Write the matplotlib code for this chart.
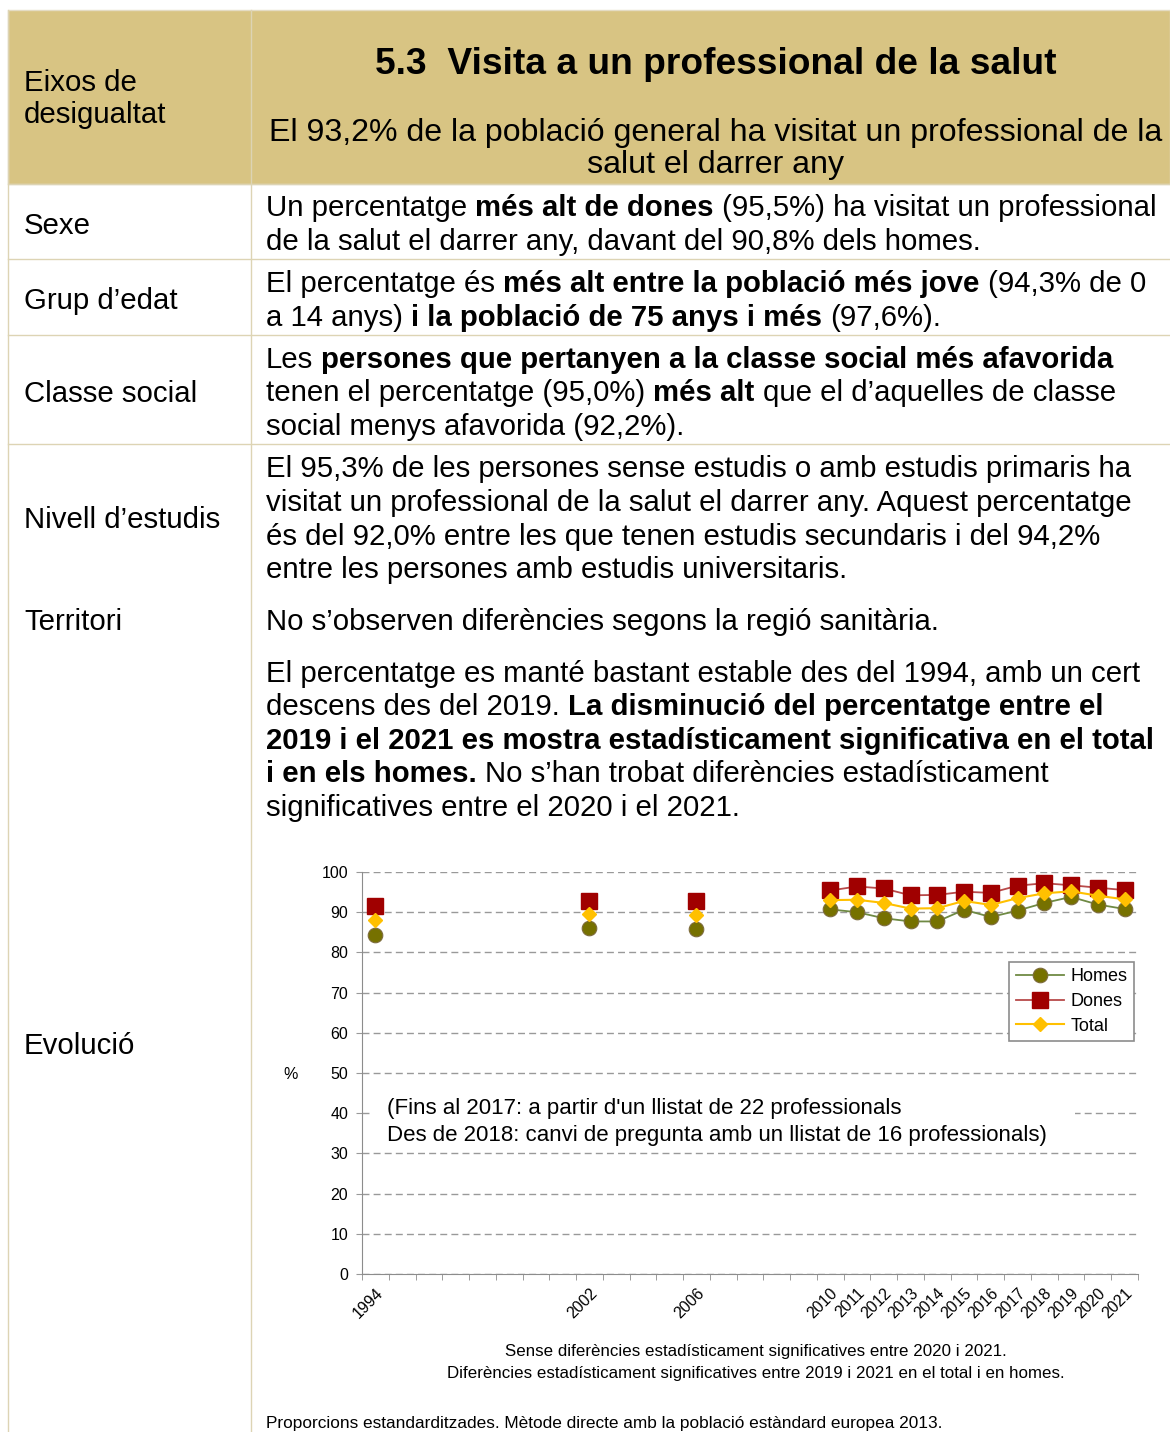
import matplotlib
matplotlib.use('Agg')
import matplotlib.pyplot as plt
from matplotlib.patches import Rectangle
from matplotlib.lines import Line2D
from matplotlib.font_manager import FontProperties
import numpy as np

FONT = 'Liberation Sans'
plt.rcParams['font.family'] = [FONT, 'DejaVu Sans']

# category axis of the chart (blank = year without survey)
categories = ['1994', '', '', '', '', '', '', '',
              '2002', '', '', '',
              '2006', '', '', '', '',
              '2010', '2011', '2012', '2013', '2014', '2015', '2016',
              '2017', '2018', '2019', '2020', '2021']
years = ['1994', '2002', '2006', '2010', '2011', '2012', '2013', '2014',
         '2015', '2016', '2017', '2018', '2019', '2020', '2021']
homes = [84.4, 86.1, 85.9, 90.7, 90.0, 88.5, 87.7, 87.7, 90.6, 88.8, 90.4, 92.3, 93.8, 91.9, 90.8]
dones = [91.6, 92.8, 92.7, 95.4, 96.4, 95.9, 94.2, 94.3, 95.1, 94.8, 96.6, 97.2, 96.7, 96.1, 95.5]
total = [88.1, 89.5, 89.2, 93.0, 93.1, 92.3, 90.9, 91.0, 92.8, 91.8, 93.5, 94.7, 95.2, 94.1, 93.2]

W, H = 1170, 1432
BODY = 21.2
fig = plt.figure(figsize=(W / 100, H / 100), dpi=100)
renderer = fig.canvas.get_renderer()


def fx(x):
    return x / W


def fy(y):
    return 1 - y / H


def seg_width(s, prop):
    w2 = renderer.get_text_width_height_descent('|' + s + '|', prop, ismath=False)[0]
    w0 = renderer.get_text_width_height_descent('||', prop, ismath=False)[0]
    return w2 - w0


def rich_line(x, y, parts, size=BODY):
    for s, bold in parts:
        prop = FontProperties(family=FONT, size=size, weight='bold' if bold else 'normal')
        lead = len(s) - len(s.lstrip(' '))
        xs = x + (seg_width(' ' * lead, prop) if lead else 0)
        fig.text(fx(xs), fy(y), s.strip(' '), fontproperties=prop, va='center_baseline')
        x += seg_width(s, prop)


# table frame
line_col = '#ddd4b4'
fig.patches.append(Rectangle((fx(8), fy(184)), (W - 8) / W, 174 / H, transform=fig.transFigure,
                             facecolor='#d8c483', edgecolor='#e4dcc4', lw=1, zorder=0))
for y in [184, 259, 335, 444]:
    fig.lines.append(Line2D([fx(8), 1], [fy(y), fy(y)], transform=fig.transFigure, color=line_col, lw=1))
for x in [8, 251]:
    fig.lines.append(Line2D([fx(x), fx(x)], [fy(10), 0], transform=fig.transFigure, color=line_col, lw=1))

# header
fig.text(fx(24), fy(80), 'Eixos de', fontsize=BODY, va='center_baseline')
fig.text(fx(24), fy(112), 'desigualtat', fontsize=BODY, va='center_baseline')
fig.text(fx(716), fy(60), '5.3  Visita a un professional de la salut', fontsize=26.7,
         fontweight='bold', ha='center', va='center_baseline')
fig.text(fx(716), fy(129), 'El 93,2% de la població general ha visitat un professional de la',
         fontsize=23.1, ha='center', va='center_baseline')
fig.text(fx(716), fy(162), 'salut el darrer any', fontsize=23.1, ha='center', va='center_baseline')

# row labels
for lab, y in [('Sexe', 223), ('Grup d’edat', 298), ('Classe social', 391),
               ('Nivell d’estudis', 517), ('Territori', 619), ('Evolució', 1043)]:
    fig.text(fx(24), fy(y), lab, fontsize=BODY, va='center_baseline')

# row texts
rows = [
    (205, [('Un percentatge ', 0), ('més alt de dones', 1), (' (95,5%) ha visitat un professional', 0)]),
    (239, [('de la salut el darrer any, davant del 90,8% dels homes.', 0)]),
    (281, [('El percentatge és ', 0), ('més alt entre la població més jove', 1), (' (94,3% de 0', 0)]),
    (315, [('a 14 anys) ', 0), ('i la població de 75 anys i més', 1), (' (97,6%).', 0)]),
    (357, [('Les ', 0), ('persones que pertanyen a la classe social més afavorida', 1)]),
    (390, [('tenen el percentatge (95,0%) ', 0), ('més alt', 1), (' que el d’aquelles de classe', 0)]),
    (424, [('social menys afavorida (92,2%).', 0)]),
    (466, [('El 95,3% de les persones sense estudis o amb estudis primaris ha', 0)]),
    (500, [('visitat un professional de la salut el darrer any. Aquest percentatge', 0)]),
    (534, [('és del 92,0% entre les que tenen estudis secundaris i del 94,2%', 0)]),
    (567, [('entre les persones amb estudis universitaris.', 0)]),
    (619, [('No s’observen diferències segons la regió sanitària.', 0)]),
    (671, [('El percentatge es manté bastant estable des del 1994, amb un cert', 0)]),
    (704, [('descens des del 2019. ', 0), ('La disminució del percentatge entre el', 1)]),
    (738, [('2019 i el 2021 es mostra estadísticament significativa en el total', 1)]),
    (771, [('i en els homes.', 1), (' No s’han trobat diferències estadísticament', 0)]),
    (805, [('significatives entre el 2020 i el 2021.', 0)]),
]
for y, parts in rows:
    rich_line(266, y, parts)

# chart
ax = fig.add_axes([fx(362), fy(1274), 776 / W, 402 / H])
x = np.arange(len(categories))
pos = [categories.index(y) for y in years]


def full(vals):
    arr = np.full(len(categories), np.nan)
    arr[pos] = vals
    return arr


ax.plot(x, full(homes), color='#6f8a44', lw=1.3, marker='o', ms=10.5,
        mfc='#767100', mec='#7d6b3c', mew=0.8, label='Homes', zorder=3)
ax.plot(x, full(dones), color='#b84a4a', lw=1.3, marker='s', ms=11,
        mfc='#a00000', mec='#a00000', label='Dones', zorder=4)
ax.plot(x, full(total), color='#ffc000', lw=1.5, marker='D', ms=7.5,
        mfc='#ffc000', mec='#ffc000', label='Total', zorder=5)

ax.set_xlim(-0.5, len(categories) - 0.5)
ax.set_ylim(0, 100)
ax.set_yticks(range(0, 101, 10))
ax.yaxis.grid(True, color='#999999', ls=(0, (5, 3)), lw=1)
ax.set_axisbelow(True)
major = [i for i, c in enumerate(categories) if c]
ax.set_xticks(major)
ax.set_xticklabels([categories[i] for i in major], rotation=45, ha='right',
                   rotation_mode='anchor', fontsize=11.5)
ax.set_xticks(np.arange(len(categories) + 1) - 0.5, minor=True)
ax.tick_params(axis='x', which='major', length=0, pad=8)
ax.tick_params(axis='x', which='minor', length=4, color='#8c8c8c', direction='out')
ax.tick_params(axis='y', length=4, color='#999999', labelsize=11.5, pad=6)
for s in ['top', 'right']:
    ax.spines[s].set_visible(False)
for s in ['left', 'bottom']:
    ax.spines[s].set_color('#8c8c8c')
leg = ax.legend(loc='upper right', bbox_to_anchor=(0.995, 0.776), fancybox=False,
                edgecolor='#8c8c8c', fontsize=13, handlelength=2.7, borderaxespad=0,
                labelspacing=0.42, handletextpad=0.35, borderpad=0.35, framealpha=1)
leg.get_frame().set_linewidth(1.2)

fig.text(fx(291), fy(1073), '%', fontsize=11.5, ha='center', va='center_baseline')

# note inside the chart
n1 = fig.text(fx(387), fy(1106), "(Fins al 2017: a partir d'un llistat de 22 professionals",
              fontsize=16, va='center_baseline', zorder=4)
n2 = fig.text(fx(387), fy(1133), "Des de 2018: canvi de pregunta amb un llistat de 16 professionals)",
              fontsize=16, va='center_baseline', zorder=4)
b1 = n1.get_window_extent(renderer)
b2 = n2.get_window_extent(renderer)
x0, x1 = min(b1.x0, b2.x0) - 15, max(b1.x1, b2.x1) + 28
y0, y1 = min(b1.y0, b2.y0) - 4, max(b1.y1, b2.y1) + 6
fig.patches.append(Rectangle((x0 / W, y0 / H), (x1 - x0) / W, (y1 - y0) / H,
                             transform=fig.transFigure, facecolor='white', edgecolor='none', zorder=2))

fig.text(fx(756), fy(1350), 'Sense diferències estadísticament significatives entre 2020 i 2021.',
         fontsize=12.2, ha='center', va='center_baseline')
fig.text(fx(756), fy(1372), 'Diferències estadísticament significatives entre 2019 i 2021 en el total i en homes.',
         fontsize=12.2, ha='center', va='center_baseline')
fig.text(fx(266), fy(1422), 'Proporcions estandarditzades. Mètode directe amb la població estàndard europea 2013.',
         fontsize=12.4, va='center_baseline')

fig.savefig('out.png', dpi=100)
